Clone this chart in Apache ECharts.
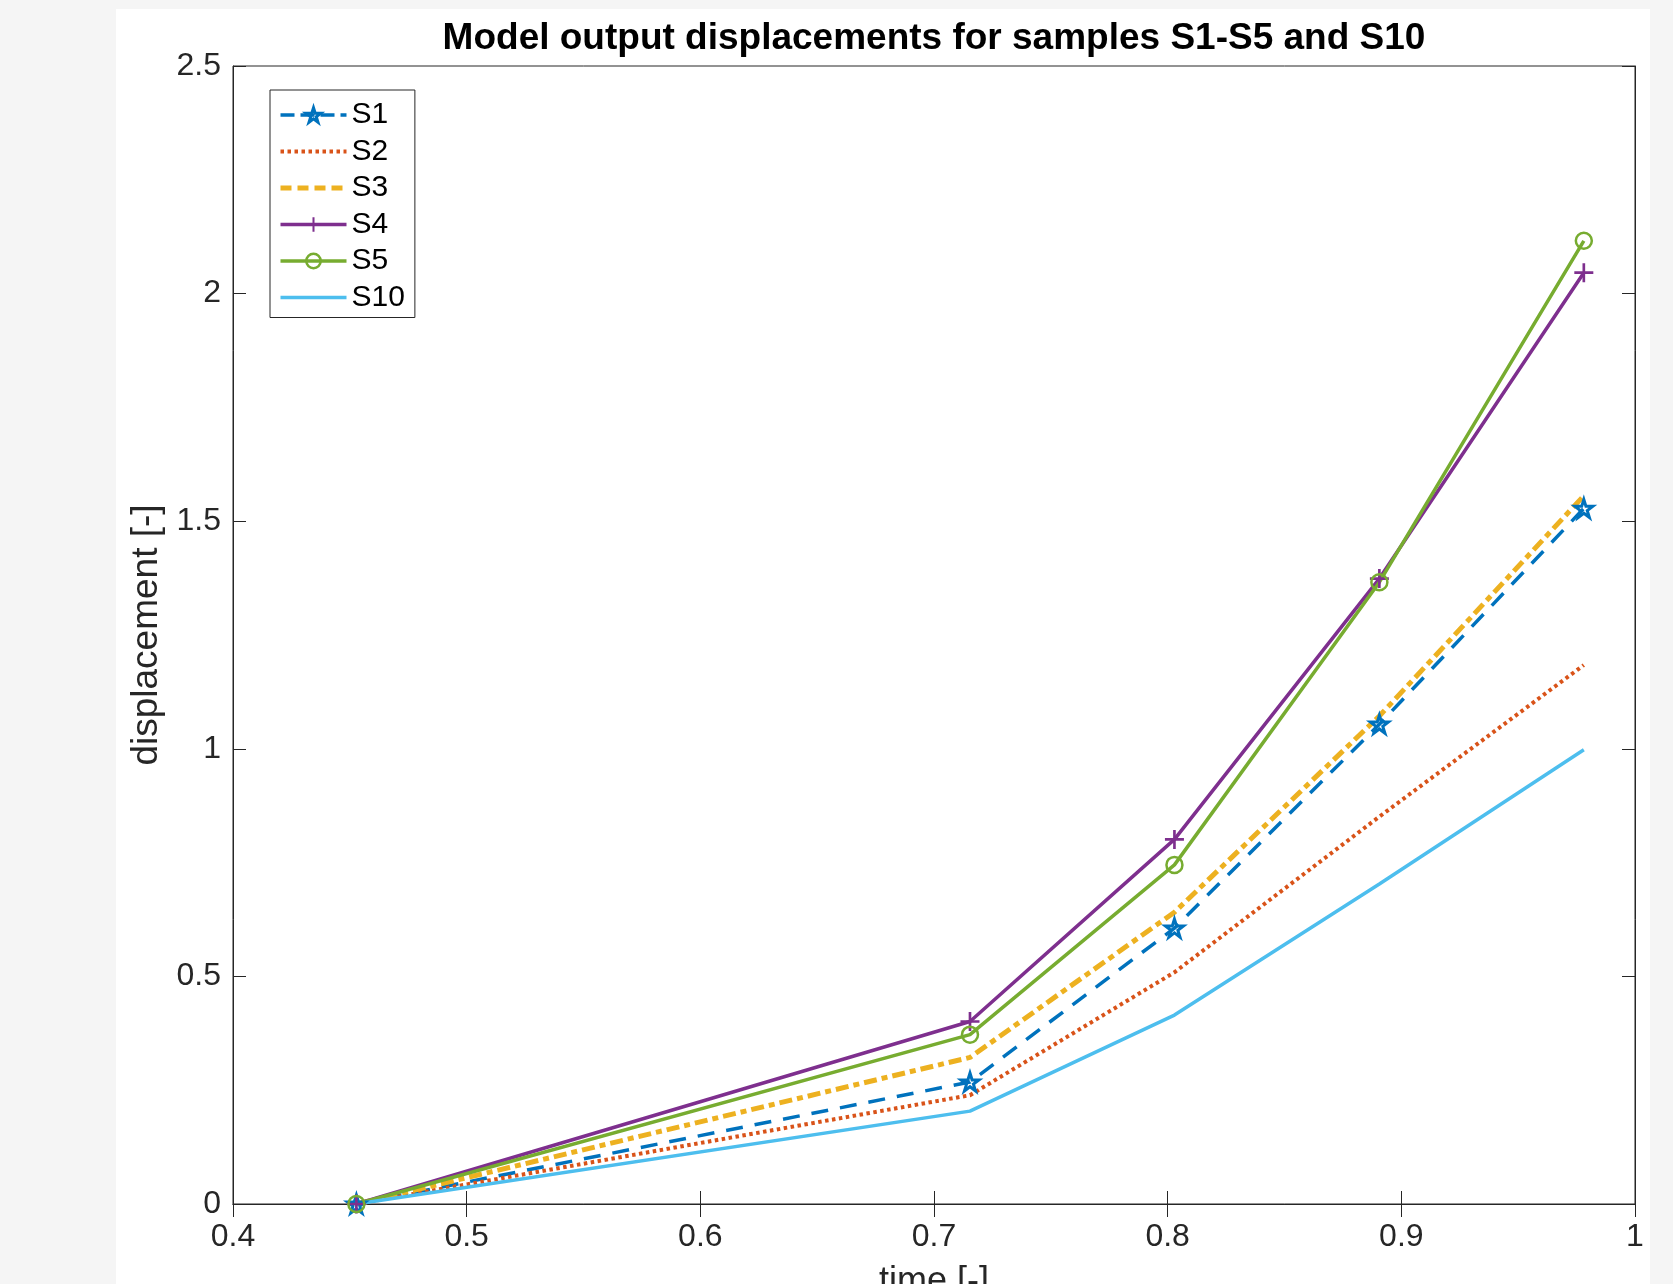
<!DOCTYPE html>
<html>
<head>
    <meta charset="UTF-8">
    <title>Model output displacements</title>
    <style>
        html, body {
            height: 100%;
            margin: 0;
            padding: 0;
            background: #f5f5f5;
        }
        #chart-container {
            width: 1673px;
            height: 1284px;
        }
    </style>
</head>
<body>
<div id="chart-container"></div>

<script src="https://cdn.jsdelivr.net/npm/echarts@6/dist/echarts.min.js"></script>
<script>
    // time values of the five model outputs
    const timeValues = [0.4528, 0.7154, 0.8029, 0.8906, 0.9781];

    // displacement per sample
    const s1 = [0, 0.268, 0.606, 1.054, 1.528];
    const s2 = [0, 0.239, 0.509, 0.851, 1.184];
    const s3 = [0, 0.322, 0.641, 1.072, 1.556];
    const s4 = [0, 0.401, 0.801, 1.374, 2.046];
    const s5 = [0, 0.372, 0.745, 1.366, 2.116];
    const s10 = [0, 0.204, 0.415, 0.703, 0.998];

    const seriesNames = ['S1', 'S2', 'S3', 'S4', 'S5', 'S10'];

    // tick labels
    const xTickValues = [0.4, 0.5, 0.6, 0.7, 0.8, 0.9, 1];
    const xTickLabels = ['0.4', '0.5', '0.6', '0.7', '0.8', '0.9', '1'];
    const yTickValues = [0, 0.5, 1, 1.5, 2, 2.5];
    const yTickLabels = ['0', '0.5', '1', '1.5', '2', '2.5'];

    // matlab default colours
    const colors = ['#0072BD', '#D95319', '#EDB120', '#7E2F8E', '#77AC30', '#4DBEEE'];
    const axisColor = '#262626';
    const fontName = 'Liberation Sans, Arial, sans-serif';

    const starPath = 'path://M0,-1 L0.2245,-0.309 L0.951,-0.309 L0.363,0.118 L0.588,0.809 L0,0.382 L-0.588,0.809 L-0.363,0.118 L-0.951,-0.309 L-0.2245,-0.309 Z';
    const plusPath = 'path://M-0.14,-1 L0.14,-1 L0.14,-0.14 L1,-0.14 L1,0.14 L0.14,0.14 L0.14,1 L-0.14,1 L-0.14,0.14 L-1,0.14 L-1,-0.14 L-0.14,-0.14 Z';

    function pickLabel(values, labels, v) {
        let best = 0;
        for (let i = 1; i < values.length; i++) {
            if (Math.abs(values[i] - v) < Math.abs(values[best] - v)) best = i;
        }
        return labels[best];
    }

    function pairs(ys) {
        return ys.map(function (y, i) { return [timeValues[i], y]; });
    }

    const chart = echarts.init(document.getElementById('chart-container'));

    const sideAxis = {
        type: 'value',
        axisLine: { show: true, lineStyle: { color: axisColor, width: 1 } },
        axisTick: { show: true, inside: true, length: 13, lineStyle: { color: axisColor } },
        splitLine: { show: false },
        axisLabel: { show: false }
    };

    const noFill = 'rgba(0,0,0,0)';

    const styles = [
        { type: [17, 12], width: 3.5, symbol: starPath, size: 18, fill: noFill, border: 3, legendType: [14, 6] },
        { type: [3.5, 3.5], width: 4, symbol: 'none', legendType: [3.5, 3.5] },
        { type: [13, 5, 6, 5], width: 5, symbol: 'none', legendType: [11, 6] },
        { type: 'solid', width: 3.5, symbol: plusPath, size: 19, fill: colors[3], border: 0, legendType: 'solid' },
        { type: 'solid', width: 3.5, symbol: 'circle', size: 16, fill: noFill, border: 2.5, legendType: 'solid' },
        { type: 'solid', width: 3.5, symbol: 'none', legendType: 'solid' }
    ];
    const seriesData = [s1, s2, s3, s4, s5, s10];

    const series = seriesData.map(function (ys, i) {
        const st = styles[i];
        return {
            name: seriesNames[i],
            type: 'line',
            data: pairs(ys),
            color: colors[i],
            symbol: st.symbol,
            symbolSize: st.size || 0,
            showSymbol: st.symbol !== 'none',
            lineStyle: { color: colors[i], width: st.width, type: st.type, cap: 'butt' },
            itemStyle: {
                color: st.fill || colors[i],
                borderColor: colors[i],
                borderWidth: st.border || 0
            },
            emphasis: { disabled: true },
            animation: false
        };
    });

    // legend entries: explicit line width, hide the symbol for plain lines
    const legendData = seriesNames.map(function (n, i) {
        const st = styles[i];
        const item = {
            name: n,
            lineStyle: { color: colors[i], width: st.width, type: st.legendType, cap: 'butt' }
        };
        if (st.symbol === 'none') {
            item.itemStyle = { color: noFill, borderColor: noFill, borderWidth: 0 };
        } else {
            item.itemStyle = { color: st.fill, borderColor: colors[i], borderWidth: st.border };
        }
        return item;
    });

    const option = {
        backgroundColor: '#f5f5f5',
        animation: false,
        graphic: [{
            type: 'rect',
            z: -10,
            shape: { x: 116, y: 9, width: 1534, height: 1290 },
            style: { fill: '#ffffff' }
        }],
        title: {
            text: 'Model output displacements for samples S1-S5 and S10',
            left: 934,
            top: 20,
            padding: 0,
            textAlign: 'center',
            textStyle: {
                fontFamily: fontName,
                fontSize: 37,
                fontWeight: 'bold',
                color: '#000'
            }
        },
        legend: {
            data: legendData,
            orient: 'vertical',
            left: 270,
            top: 90,
            itemWidth: 66,
            itemHeight: 18,
            itemGap: 6.5,
            padding: [10, 10, 5, 8],
            backgroundColor: '#fff',
            borderColor: axisColor,
            borderWidth: 1,
            borderRadius: 0,
            textStyle: {
                fontFamily: fontName,
                fontSize: 30,
                lineHeight: 30,
                color: '#000'
            }
        },
        grid: {
            left: 233,
            top: 66,
            right: 38,
            bottom: 80,
            outerBoundsMode: 'none',
            containLabel: false,
            show: true,
            backgroundColor: '#fff',
            borderColor: axisColor,
            borderWidth: 1
        },
        xAxis: [
            {
                type: 'value',
                min: 0.4,
                max: 1,
                interval: 0.1,
                position: 'bottom',
                name: 'time [-]',
                nameLocation: 'middle',
                nameGap: 60,
                nameTextStyle: { fontFamily: fontName, fontSize: 36, color: axisColor },
                axisLine: { show: true, lineStyle: { color: axisColor, width: 1 } },
                axisTick: { show: true, inside: true, length: 13, lineStyle: { color: axisColor } },
                splitLine: { show: false },
                axisLabel: {
                    margin: 17,
                    fontFamily: fontName,
                    fontSize: 32,
                    color: axisColor,
                    formatter: function (v) { return pickLabel(xTickValues, xTickLabels, v); }
                }
            },
            Object.assign({}, sideAxis, { min: 0.4, max: 1, interval: 0.1, position: 'top' })
        ],
        yAxis: [
            {
                type: 'value',
                min: 0,
                max: 2.5,
                interval: 0.5,
                position: 'left',
                name: 'displacement [-]',
                nameLocation: 'middle',
                nameGap: 68,
                nameTextStyle: { fontFamily: fontName, fontSize: 37, color: axisColor },
                axisLine: { show: true, lineStyle: { color: axisColor, width: 1 } },
                axisTick: { show: true, inside: true, length: 13, lineStyle: { color: axisColor } },
                splitLine: { show: false },
                axisLabel: {
                    margin: 12,
                    fontFamily: fontName,
                    fontSize: 32,
                    color: axisColor,
                    formatter: function (v) { return pickLabel(yTickValues, yTickLabels, v); }
                }
            },
            Object.assign({}, sideAxis, { min: 0, max: 2.5, interval: 0.5, position: 'right' })
        ],
        series: series
    };

    chart.setOption(option);
</script>
</body>
</html>
